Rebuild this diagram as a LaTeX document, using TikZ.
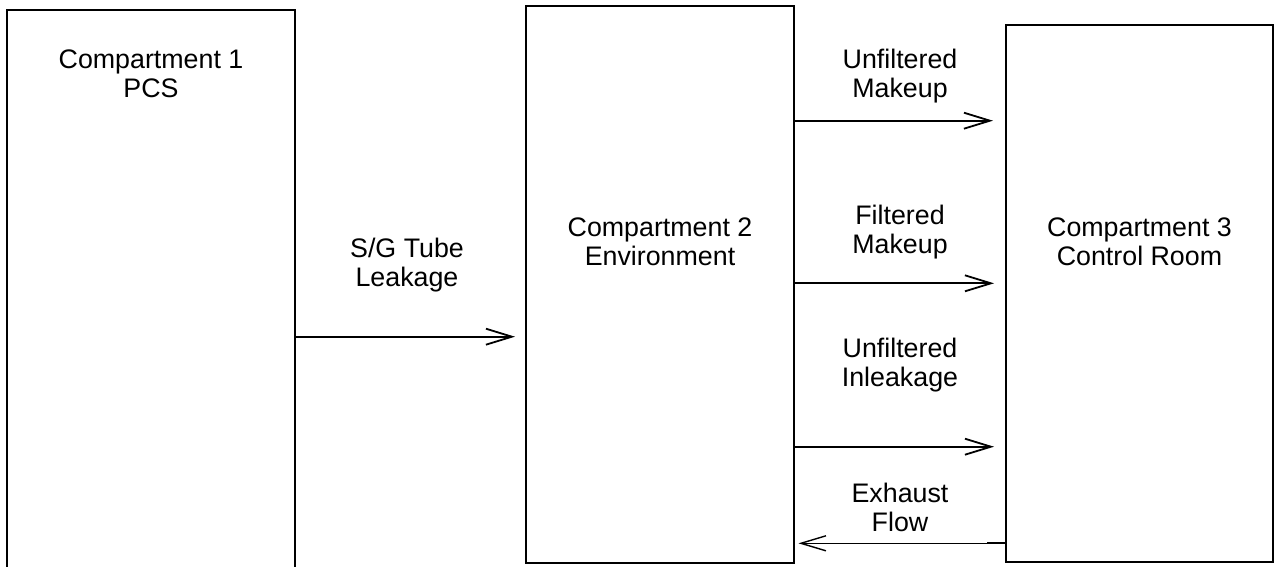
\documentclass[tikz,border=0pt]{standalone}
\usepackage{fontspec}
\setmainfont{Liberation Sans}
\usetikzlibrary{arrows.meta}
\begin{document}
\begin{tikzpicture}[x=1pt,y=-1pt,
  box/.style={draw=black, line width=2pt, rectangle, inner sep=0pt},
  lbl/.style={anchor=north, inner sep=0pt, align=center, font=\fontsize{26.8}{29}\selectfont},
  flow/.style={line width=1.8pt, -{Straight Barb[length=26pt,width=16pt,line width=1.8pt]}},
  thinflow/.style={line width=1.1pt, -{Straight Barb[length=25pt,width=15pt,line width=1.4pt]}}]
\useasboundingbox (0,0) rectangle (1275,566);
\clip (0,0) rectangle (1275,566);
% boxes
\node[box, minimum width=288pt, minimum height=570pt] (b1) at (151,295) {};
\node[box, minimum width=268.3pt, minimum height=557pt] (b2) at (659.85,284.5) {};
\node[box, minimum width=267pt, minimum height=537pt] (b3) at (1139.5,293.5) {};
% box labels
\node[lbl] (t1) at (151,50) {Compartment 1\\PCS};
\node[lbl] (t2) at (660,218) {Compartment 2\\Environment};
\node[lbl] (t3) at (1139.5,218) {Compartment 3\\Control Room};
% flow labels
\node[lbl] (l1) at (407,237.5) {S/G Tube\\Leakage};
\node[lbl] (l2) at (900,48.5) {Unfiltered\\Makeup};
\node[lbl] (l3) at (900,205) {Filtered\\Makeup};
\node[lbl] (l4) at (900,338) {Unfiltered\\Inleakage};
\node[lbl] (l5) at (900,483) {Exhaust\\Flow};
% arrow ends
\coordinate (e1) at (515,336.7);
\coordinate (e2) at (993,120.7);
\coordinate (e3) at (994,283.3);
\coordinate (e4) at (994,446.7);
\coordinate (e5) at (798.5,543.3);
\coordinate (s5) at (987,543.3);
% arrows
\draw[flow] (b1.east |- e1) -- (e1);
\draw[flow] (b2.east |- e2) -- (e2);
\draw[flow] (b2.east |- e3) -- (e3);
\draw[flow] (b2.east |- e4) -- (e4);
\draw[line width=1.8pt] (b3.west |- s5) -- (s5);
\draw[thinflow] (s5) -- (e5);
\end{tikzpicture}
\end{document}
